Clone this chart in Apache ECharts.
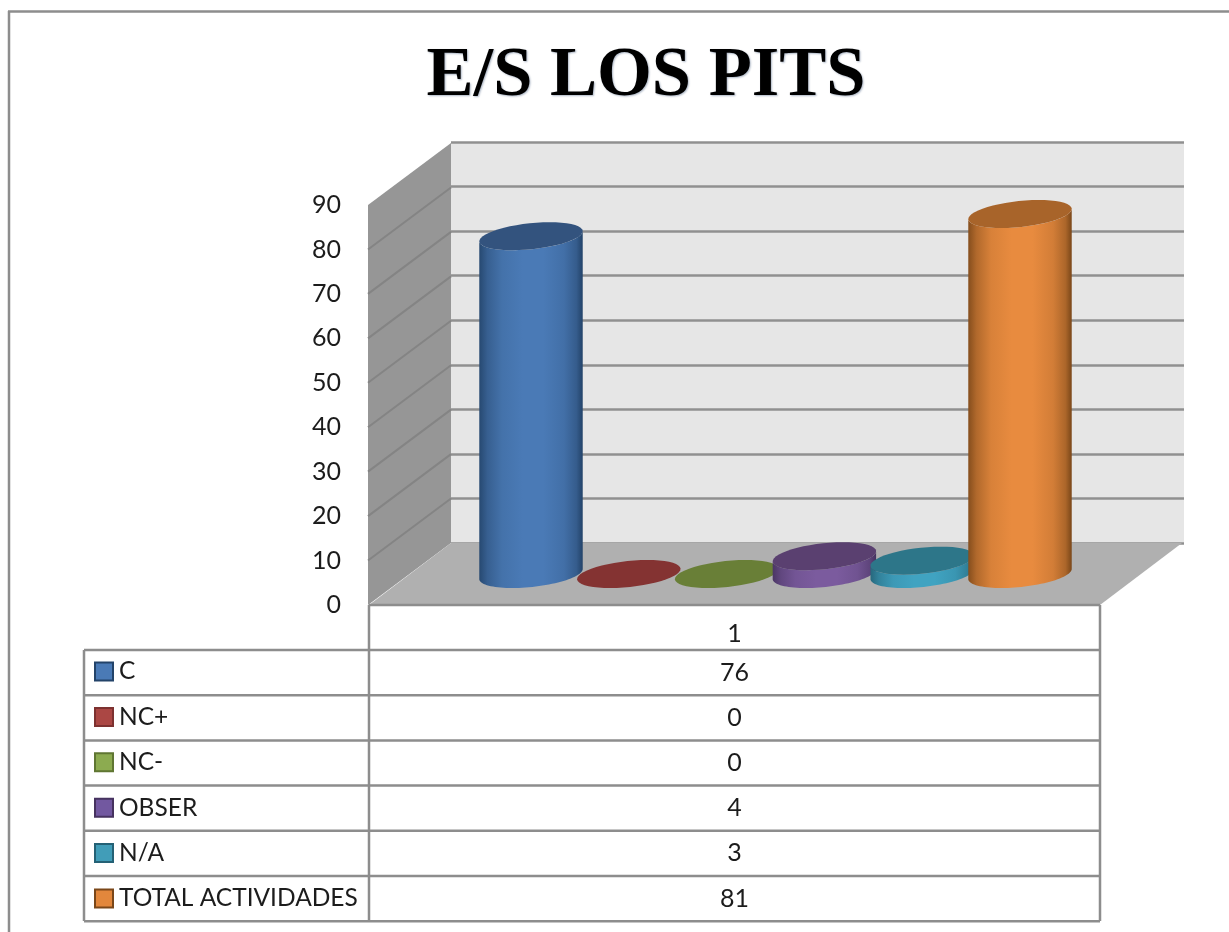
<!DOCTYPE html>
<html>
<head>
<meta charset="utf-8">
<title>E/S LOS PITS</title>
<style>
  html, body { margin: 0; padding: 0; background: #fff; }
  #main { width: 1229px; height: 932px; }
</style>
<script src="https://cdn.jsdelivr.net/npm/echarts@6/dist/echarts.min.js"></script>
</head>
<body>
<div id="main"></div>
<script>
var titleText = "E/S LOS PITS";
var xCategories = ["1"];
var seriesNames = ["C", "NC+", "NC-", "OBSER", "N/A", "TOTAL ACTIVIDADES"];
var seriesValues = [76, 0, 0, 4, 3, 81];
var yMax = 90;
var yStep = 10;

// colores de cada cilindro: [borde, centro, tapa]
var sideDark = ["#234369", "#7d3130", "#5f7632", "#46325f", "#246175", "#7a4719"];
var sideMid = ["#4a7ab6", "#a84543", "#8aa84d", "#7b5b9e", "#40a3c1", "#e88b3f"];
var topColor = ["#33537e", "#843332", "#697f37", "#5a4070", "#2d7689", "#a8642a"];
var swatchColor = ["#4a7ab6", "#ab4744", "#8cab50", "#7258a0", "#419db8", "#e2873c"];

var lineGray = "#8d8d8d";
var textColor = "#1c1c1c";
var textFont = "Lato";

// front box of the 3d chart, back wall is the same box moved by depth
var frontLeft = 369, frontRight = 1100, frontTop = 205, frontBottom = 605;
var depth = [82, -62];
var tableLeft = 84, tableBottom = 921;
var rowTop = 650, rowH = 45.2;
var cylStep = 97.8, rx = 52, ry = 13, tilt = 6 * Math.PI / 180;

function ellipsePts(cx, cy, from, to) {
  var pts = [];
  var c = Math.cos(tilt), s = Math.sin(tilt);
  for (var k = 0; k <= 48; k++) {
    var t = from + (to - from) * k / 48;
    var ax = rx * Math.cos(t), by = ry * Math.sin(t);
    pts.push([cx + ax * c + by * s, cy - ax * s + by * c]);
  }
  return pts;
}

function cylinderItem(i) {
  return function (params, api) {
    var top = api.coord([api.value(0), api.value(1)]);
    var base = api.coord([api.value(0), 0]);
    var children = [];
    var shade = function (t) {
      return echarts.color.lerp(t, [sideDark[i], sideMid[i]]);
    };
    if (api.value(1) > 0) {
      // cuerpo: media elipse abajo, media elipse arriba
      var body = ellipsePts(base[0], base[1], 0, Math.PI).concat(
        ellipsePts(top[0], top[1], Math.PI, 0)
      );
      children.push({
        type: "polygon",
        shape: { points: body },
        style: {
          fill: new echarts.graphic.LinearGradient(0, 0, 1, 0, [
            { offset: 0, color: shade(0.1) },
            { offset: 0.08, color: shade(0.5) },
            { offset: 0.22, color: shade(0.85) },
            { offset: 0.42, color: sideMid[i] },
            { offset: 0.62, color: sideMid[i] },
            { offset: 0.82, color: shade(0.8) },
            { offset: 0.94, color: shade(0.45) },
            { offset: 1, color: shade(0) }
          ])
        }
      });
    }
    children.push({
      type: "polygon",
      shape: { points: ellipsePts(top[0], top[1], 0, Math.PI * 2) },
      style: { fill: topColor[i] }
    });
    return { type: "group", children: children };
  };
}

function wallsItem(params, api) {
  var halfBand = api.size([1, 0])[0] / 2;
  var o = api.coord([0, 0]);
  var t = api.coord([0, yMax]);
  var l = o[0] - halfBand, r = o[0] + halfBand;
  var children = [
    {
      type: "polygon",
      shape: { points: [[l - 1, t[1]], [l + depth[0], t[1] + depth[1]], [l + depth[0], o[1] + depth[1]], [l - 1, o[1]]] },
      style: { fill: "#969696" }
    },
    {
      type: "polygon",
      shape: { points: [[l, o[1]], [l + depth[0], o[1] + depth[1]], [r + depth[0], o[1] + depth[1]], [r, o[1]]] },
      style: { fill: "#b0b0b0" }
    }
  ];
  for (var v = yStep; v < yMax; v += yStep) {
    var y = api.coord([0, v])[1];
    children.push({
      type: "line",
      shape: { x1: l - 1, y1: y, x2: l + depth[0], y2: y + depth[1] },
      style: { stroke: "#848484", lineWidth: 2 }
    });
  }
  return { type: "group", children: children };
}

function hLine(x1, x2, y) {
  return { type: "line", z: 5, shape: { x1: x1, y1: y, x2: x2, y2: y }, style: { stroke: lineGray, lineWidth: 2.5 } };
}
function vLine(x, y1, y2) {
  return { type: "line", z: 5, shape: { x1: x, y1: y1, x2: x, y2: y2 }, style: { stroke: lineGray, lineWidth: 2.5 } };
}

// tabla de datos
var tableEls = [
  vLine(9, 11, 932),
  hLine(8, 1229, 11.5),
  hLine(frontLeft, frontRight, frontBottom),
  vLine(frontLeft, frontBottom, tableBottom),
  vLine(frontRight, frontBottom, tableBottom),
  vLine(tableLeft, rowTop, tableBottom)
];
for (var r = 0; r <= seriesNames.length; r++) {
  tableEls.push(hLine(tableLeft, frontRight, rowTop + r * rowH));
}
seriesValues.forEach(function (v, i) {
  tableEls.push({
    type: "text",
    z: 6,
    style: {
      x: (frontLeft + frontRight) / 2,
      y: rowTop + (i + 0.5) * rowH,
      text: String(v),
      align: "center",
      verticalAlign: "middle",
      fill: textColor,
      font: "25px " + textFont
    }
  });
});

var cylSeries = seriesNames.map(function (name, i) {
  return {
    name: name,
    type: "custom",
    coordinateSystem: "cartesian2d",
    xAxisIndex: 2,
    yAxisIndex: 2,
    z: 4 + i,
    silent: true,
    itemStyle: { color: swatchColor[i], borderColor: sideDark[i], borderWidth: 2 },
    renderItem: cylinderItem(i),
    data: [[i, seriesValues[i]]]
  };
});

var option = {
  animation: false,
  backgroundColor: "#fff",
  title: {
    text: titleText,
    left: 641,
    textAlign: "center",
    top: 36,
    textStyle: {
      fontFamily: "Liberation Serif",
      fontWeight: "bold",
      fontSize: 70.5,
      color: "#000",
      textShadowColor: "rgba(90,110,140,0.5)",
      textShadowBlur: 2,
      textShadowOffsetX: 1,
      textShadowOffsetY: 1
    }
  },
  legend: {
    orient: "vertical",
    left: 89,
    top: 654,
    height: 300,
    width: 275,
    itemWidth: 18,
    itemHeight: 18,
    itemGap: 20.4,
    icon: "rect",
    selectedMode: false,
    textStyle: { fontFamily: textFont, fontSize: 24.5, lineHeight: 18, color: textColor, padding: [0, 0, 0, 1] },
    data: seriesNames
  },
  grid: [
    // caja frontal: etiquetas del eje
    { left: frontLeft, width: frontRight - frontLeft, top: frontTop, height: frontBottom - frontTop },
    // pared del fondo
    {
      left: frontLeft + depth[0],
      width: frontRight - frontLeft + 2,
      top: frontTop + depth[1] - 1,
      height: frontBottom - frontTop + 1,
      show: true,
      backgroundColor: "#e6e6e6",
      borderWidth: 0
    },
    // plano medio donde se apoyan los cilindros
    {
      left: (frontLeft + frontRight + depth[0]) / 2 - cylStep * seriesNames.length / 2,
      width: cylStep * seriesNames.length,
      top: frontTop + depth[1] / 2,
      height: frontBottom - frontTop
    }
  ],
  xAxis: [
    {
      gridIndex: 0,
      type: "category",
      data: xCategories,
      axisLine: { show: false },
      axisTick: { show: false },
      axisLabel: { fontFamily: textFont, fontSize: 25, color: textColor, margin: 16 }
    },
    { gridIndex: 1, type: "category", data: xCategories, show: false },
    { gridIndex: 2, type: "category", data: seriesNames, show: false }
  ],
  yAxis: [
    {
      gridIndex: 0,
      type: "value",
      min: 0,
      max: yMax,
      interval: yStep,
      axisLine: { show: false },
      axisTick: { show: false },
      splitLine: { show: false },
      axisLabel: { fontFamily: textFont, fontSize: 25, color: textColor, margin: 28, padding: [5, 0, 0, 0] }
    },
    {
      gridIndex: 1,
      type: "value",
      min: 0,
      max: yMax,
      interval: yStep,
      axisLine: { show: false },
      axisTick: { show: false },
      axisLabel: { show: false },
      splitLine: { show: true, lineStyle: { color: "#909090", width: 2.5 } }
    },
    { gridIndex: 2, type: "value", min: 0, max: yMax, interval: yStep, show: false }
  ],
  graphic: { elements: tableEls },
  series: [
    {
      type: "custom",
      coordinateSystem: "cartesian2d",
      xAxisIndex: 0,
      yAxisIndex: 0,
      z: 2,
      silent: true,
      renderItem: wallsItem,
      data: [[0, 0]]
    }
  ].concat(cylSeries)
};

var myChart = echarts.init(document.getElementById("main"));
myChart.setOption(option);
</script>
</body>
</html>
